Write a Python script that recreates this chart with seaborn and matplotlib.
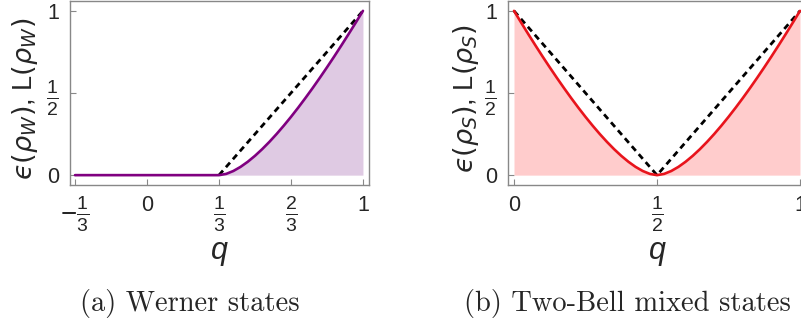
import numpy as np
import pandas as pd
import matplotlib
matplotlib.use('Agg')
import matplotlib.pyplot as plt
import seaborn as sns

# Estilo
sns.set_style("white")
plt.rcParams['font.family'] = ['Liberation Sans', 'DejaVu Sans']
plt.rcParams['mathtext.fontset'] = 'custom'
plt.rcParams['mathtext.rm'] = 'Liberation Sans'
plt.rcParams['mathtext.it'] = 'Liberation Sans:italic'
plt.rcParams['mathtext.fallback'] = 'cm'

# Datos
# (a) Werner: curva morada (cero hasta q=1/3) y recta discontinua
werner_q = [-0.3333, 0.3333, 0.3667, 0.4, 0.4333, 0.4667, 0.5, 0.5333, 0.5667,
            0.6, 0.6333, 0.6667, 0.7, 0.7333, 0.7667, 0.8, 0.8333, 0.8667,
            0.9, 0.9333, 0.9667, 1.0]
werner_E = [0.0, 0.0, 0.0076, 0.0253, 0.0504, 0.0815, 0.1176, 0.1581, 0.2025,
            0.2502, 0.3010, 0.3546, 0.4106, 0.4690, 0.5295, 0.5919, 0.6561,
            0.7219, 0.7894, 0.8582, 0.9285, 1.0]
werner_dash_q = [0.3333, 1.0]
werner_dash_C = [0.0, 1.0]

# (b) Two-Bell: curva roja y V discontinua
bell_q = [0.0, 0.025, 0.05, 0.075, 0.1, 0.125, 0.15, 0.175, 0.2, 0.225, 0.25,
          0.275, 0.3, 0.325, 0.35, 0.375, 0.4, 0.425, 0.45, 0.475, 0.5,
          0.525, 0.55, 0.575, 0.6, 0.625, 0.65, 0.675, 0.7, 0.725, 0.75,
          0.775, 0.8, 0.825, 0.85, 0.875, 0.9, 0.925, 0.95, 0.975, 1.0]
bell_E = [1.0, 0.9285, 0.8582, 0.7894, 0.7219, 0.6561, 0.5919, 0.5295, 0.4690,
          0.4106, 0.3546, 0.3010, 0.2502, 0.2025, 0.1581, 0.1176, 0.0815,
          0.0504, 0.0253, 0.0076, 0.0,
          0.0076, 0.0253, 0.0504, 0.0815, 0.1176, 0.1581, 0.2025, 0.2502,
          0.3010, 0.3546, 0.4106, 0.4690, 0.5295, 0.5919, 0.6561, 0.7219,
          0.7894, 0.8582, 0.9285, 1.0]
bell_dash_q = [0.0, 0.5, 1.0]
bell_dash_C = [1.0, 0.0, 1.0]

werner_ticks = [-1/3, 0, 1/3, 2/3, 1]
werner_labels = [r'$-\frac{1}{3}$', '0', r'$\frac{1}{3}$', r'$\frac{2}{3}$', '1']
bell_ticks = [0, 0.5, 1]
bell_labels = ['0', r'$\frac{1}{2}$', '1']
y_ticks = [0, 0.5, 1]
y_labels = ['0', r'$\frac{1}{2}$', '1']

fig = plt.figure(figsize=(8.01, 3.24), dpi=100)
ax1 = fig.add_axes([70/801, 139/324, 299/801, 184/324])
ax2 = fig.add_axes([508/801, 139/324, 298/801, 184/324])

paneles = [
    (ax1, werner_q, werner_E, werner_dash_q, werner_dash_C, '#800080', '#dfcae3',
     (-0.3565, 1.028), werner_ticks, werner_labels,
     '$\u03f5(\\rho_W)$, L$(\\rho_W)$', -0.15, '(a) Werner states', 190),
    (ax2, bell_q, bell_E, bell_dash_q, bell_dash_C, '#e8141c', '#ffcccc',
     (-0.021, 1.021), bell_ticks, bell_labels,
     '$\u03f5(\\rho_S)$, L$(\\rho_S)$', -0.14, '(b) Two-Bell mixed states', 627),
]

for ax, qx, ey, dq, dc, col, fillcol, xl, xt, xtl, ylab, ylx, cap, capx in paneles:
    ax.fill_between(qx, 0, ey, color=fillcol, lw=0)
    sns.lineplot(x=dq, y=dc, ax=ax, color='black', lw=2, linestyle=(0, (2.2, 1.6)))
    sns.lineplot(x=qx, y=ey, ax=ax, color=col, lw=1.9)
    ax.set_xlim(*xl)
    ax.set_ylim(-0.06, 1.06)
    ax.set_xticks(xt)
    ax.set_xticklabels(xtl)
    ax.set_yticks(y_ticks)
    ax.set_yticklabels(y_labels)
    ax.tick_params(direction='in', length=4, width=0.8, color='#888888',
                   labelsize=15.5, bottom=True, left=True)
    ax.tick_params(axis='x', pad=7)
    ax.tick_params(axis='y', pad=8)
    # fracciones: mathtext las reduce, así que se agrandan
    for lbl in ax.get_xticklabels() + ax.get_yticklabels():
        if 'frac' in lbl.get_text():
            lbl.set_fontsize(20)
    for s in ax.spines.values():
        s.set_color('#888888')
        s.set_linewidth(1.0)
    ax.set_ylabel(ylab, fontsize=19.5, math_fontfamily='dejavusans')
    ax.yaxis.set_label_coords(ylx, 0.47)
    ax.yaxis.label.set_verticalalignment('center')
    ax.set_xlabel('$q$', fontsize=22)
    ax.xaxis.set_label_coords(0.5, -0.37)
    ax.xaxis.label.set_verticalalignment('center')
    fig.text(capx / 801, 1 - 303 / 324, cap, ha='center', va='center',
             fontsize=20.5, family='cmr10')

fig.savefig('out.png', dpi=100)
